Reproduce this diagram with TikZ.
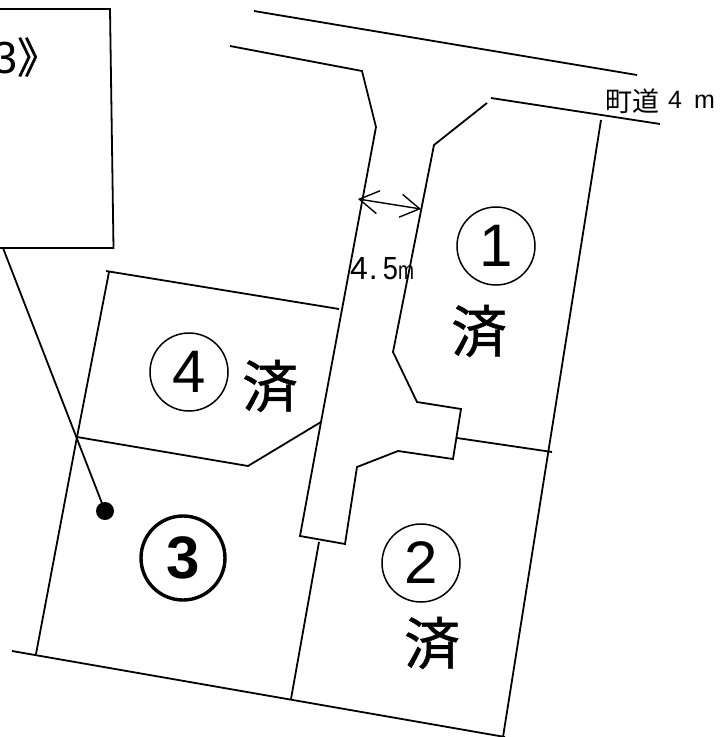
\documentclass[tikz,border=0pt]{standalone}
\usepackage{fontspec}
\setmainfont{Liberation Sans}
\newfontfamily\cjk{Noto Sans CJK JP}
\newfontfamily\cjkb[FakeBold=0.8]{Noto Sans CJK JP}
\usetikzlibrary{arrows.meta}
\tikzset{
  x=1pt,y=-1pt,
  ln/.style={draw=black,line width=1.8pt,line join=miter},
  num/.style={circle,draw=black,line width=1.5pt,minimum size=78pt,inner sep=0pt,font=\fontsize{60}{60}\selectfont},
  sumi/.style={inner sep=0pt,font=\cjkb\fontsize{56}{56}\selectfont},
  lbl/.style={inner sep=0pt,anchor=base west}
}
\begin{document}
\begin{tikzpicture}
\useasboundingbox (0,0) rectangle (720,737);
% roads
\draw[ln] (254,11) -- (637,75);
\draw[ln] (230,46) -- (362,71) -- (376,127) -- (321,422) -- (300,536) -- (345,544) -- (357,467) -- (398,451) -- (453,459) -- (461,409) -- (417,402) -- (393,352) -- (434,145) -- (487,103);
\draw[ln] (491,98) -- (660,124);
% lots
\draw[ln] (601,120) -- (503,737);
\draw[ln] (457,438) -- (552,452);
\draw[ln] (12,651) -- (505,737);
\draw[ln] (319,542) -- (291,699);
\draw[ln] (106,271) -- (339,309);
\draw[ln] (109,272) -- (77,437) -- (36,654);
\draw[ln] (77,437) -- (248,466) -- (321,422);
% boxed callout
\draw[ln] (-5,9) -- (110,9) -- (113.5,248) -- (-5,248);
\draw[ln] (3,248) -- (105,511);
\fill[black] (105,511) circle (9);
% width dimension
\draw[black,line width=1.4pt,{Straight Barb[length=19pt,width=23pt]}-{Straight Barb[length=19pt,width=23pt]}] (358,199) -- (421,209);
% labels
\node[num] (n1) at (496,246) {1};
\node[num] (n2) at (421,563) {2};
\node[num,line width=3.4pt,minimum size=84pt,font=\fontsize{60}{60}\selectfont\bfseries] (n3) at (183,558) {3};
\node[num] (n4) at (189,372) {4};
\node[sumi] (s1) at (479,331) {済};
\node[sumi] (s2) at (432,643) {済};
\node[sumi] (s4) at (270,386) {済};
\node[lbl] (t1) at (605,111) {\cjk\fontsize{27}{27}\selectfont 町道};
\node[lbl] (t2) at (668,108) {\fontsize{25}{25}\selectfont 4\hspace{12pt}m};
\node[lbl] (t3) at (350,279) {\fontsize{32}{32}\selectfont 4\hspace{1pt}.\hspace{5pt}\scalebox{0.85}[1]{5}\scalebox{0.6}[0.8]{m}};
\node[lbl,anchor=base east] (t4) at (18,73) {\fontsize{45}{45}\selectfont 3};
\node[lbl] (t5) at (17,73) {\cjkb\fontsize{42}{42}\selectfont 》};
\end{tikzpicture}
\end{document}
